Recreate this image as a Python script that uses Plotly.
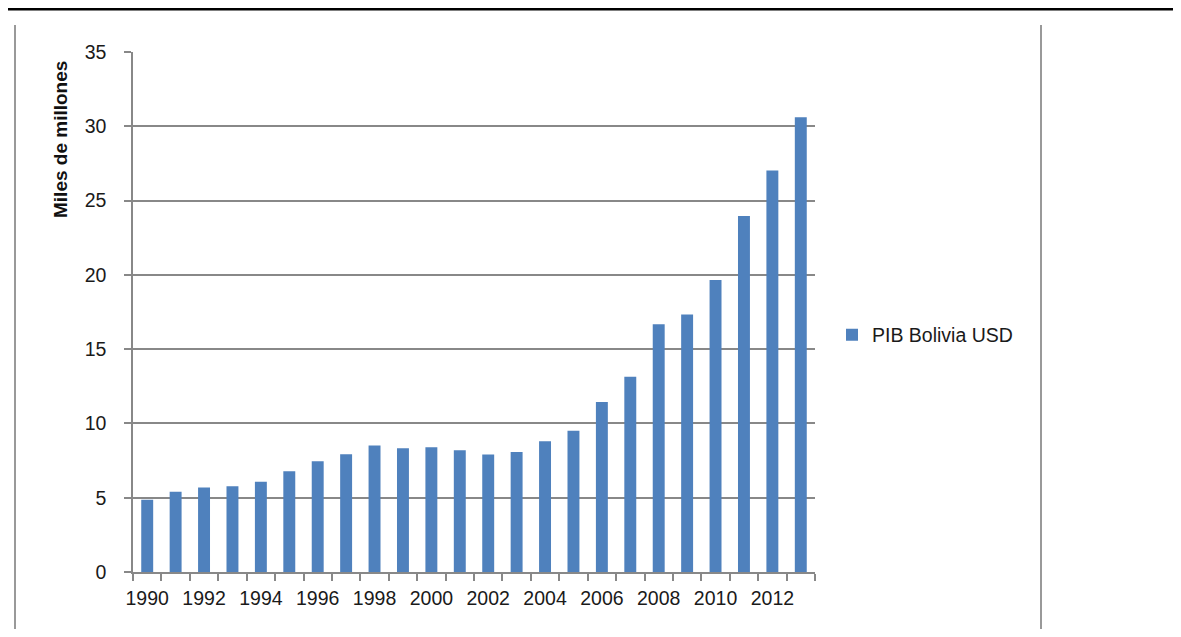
import plotly.graph_objects as go

years = [str(y) for y in range(1990, 2014)]
pib = [4.87, 5.40, 5.68, 5.77, 6.08, 6.78, 7.45, 7.92, 8.52, 8.33, 8.40, 8.19, 7.91, 8.08,
       8.80, 9.50, 11.45, 13.14, 16.67, 17.34, 19.65, 23.96, 27.03, 30.60]
tick_text = [y if int(y) % 2 == 0 else "" for y in years]
series_name = "PIB Bolivia USD"
y_title = "Miles de millones"

# page has an 8px body margin; work in page coordinates and convert
OFF = 8
W, H = 1181 - 2 * OFF, 637 - 2 * OFF
L, R, T, B = 133 - OFF, 815 - OFF, 52 - OFF, 572 - OFF
pw, ph = R - L, B - T

def px(x):
    return (x - OFF - L) / pw

def py(y):
    return (B - (y - OFF)) / ph

font_family = "Liberation Sans, Arial, sans-serif"

fig = go.Figure()
fig.add_trace(go.Bar(
    x=years, y=pib, name=series_name,
    marker=dict(color="#4F81BD", line=dict(width=0)),
    width=0.42, showlegend=True,
))

fig.update_layout(
    width=W, height=H,
    margin=dict(l=L, r=W - R, t=T, b=H - B),
    paper_bgcolor="white", plot_bgcolor="white",
    font=dict(family=font_family, size=19, color="#1a1a1a"),
    showlegend=True,
    legend=dict(x=px(832), y=py(335), xanchor="left", yanchor="middle",
                font=dict(size=19.5, color="#1a1a1a"), bgcolor="rgba(0,0,0,0)",
                itemwidth=30, itemsizing="constant"),
)

fig.update_xaxes(
    type="category",
    tickmode="array", tickvals=years, ticktext=tick_text,
    tickson="boundaries", ticks="outside", ticklen=7, tickcolor="#888", tickwidth=1.5,
    showline=True, linecolor="#888", linewidth=1.5,
    showgrid=False, ticklabelstandoff=8,
    tickfont=dict(size=19.5, color="#1a1a1a"), tickangle=0,
)
fig.update_yaxes(
    range=[0, 35], tickmode="linear", tick0=0, dtick=5,
    ticks="outside", ticklen=7, tickcolor="#888", tickwidth=1.5,
    showline=True, linecolor="#888", linewidth=1.5,
    showgrid=True, gridcolor="#888", gridwidth=1.5,
    zeroline=False, ticklabelstandoff=14,
    tickfont=dict(size=19.5, color="#1a1a1a"),
)

fig.add_annotation(
    text="<b>" + y_title + "</b>", xref="paper", yref="paper",
    x=px(61), y=py(140), xanchor="center", yanchor="middle",
    textangle=-90, showarrow=False, font=dict(size=19, color="#111"),
)

# frame lines
fig.add_shape(type="line", xref="paper", yref="paper",
              x0=px(0), x1=px(1181), y0=py(9), y1=py(9),
              line=dict(color="black", width=3))
for xv in (15, 1041):
    fig.add_shape(type="line", xref="paper", yref="paper",
                  x0=px(xv), x1=px(xv), y0=py(25), y1=py(640),
                  line=dict(color="#999", width=2))

fig.write_html("out.html")
